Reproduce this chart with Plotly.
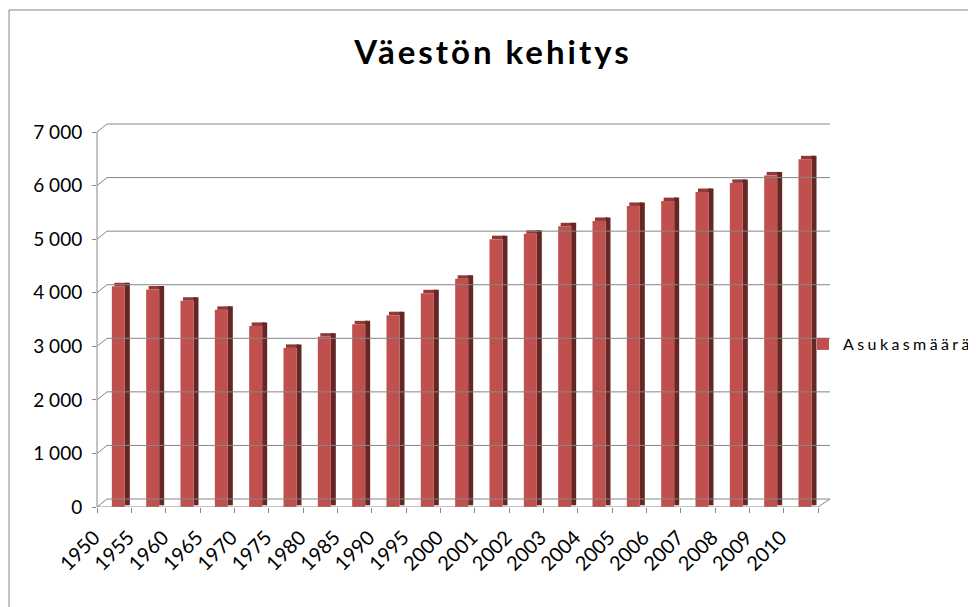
import plotly.graph_objects as go

# ---- data ----
years = ["1950", "1955", "1960", "1965", "1970", "1975", "1980", "1985", "1990", "1995",
         "2000", "2001", "2002", "2003", "2004", "2005", "2006", "2007", "2008", "2009", "2010"]
population = [4120, 4060, 3850, 3680, 3380, 2970, 3180, 3410, 3580, 3990,
              4260, 5000, 5100, 5240, 5340, 5620, 5710, 5880, 6050, 6190, 6490]
y_ticks = [0, 1000, 2000, 3000, 4000, 5000, 6000, 7000]
y_tick_labels = ["0", "1 000", "2 000", "3 000", "4 000", "5 000", "6 000", "7 000"]
series_name = "Asukasmäärä"
title_text = "Väestön kehitys"

# ---- geometry (page pixels; the page body adds an 8px margin) ----
OX, OY = 8, 8
W, H = 976 - OX, 607 - OY
L, R, T, B = 97 - OX, 830 - OX, 123 - OY, 507 - OY   # plot area in figure px
front_right = 818 - OX
n = len(years)
unit = (front_right - L) / n             # px per category
x_span = (R - L) / unit
ppu = 53.57 / 1000                       # px per data unit
y_top = (B - T) / ppu
wall_dx = 10                             # 3-D back wall offset (px)
wall_dy = 8 / ppu                        # in data units
bar_face_w = 13 / unit
bar_face_off = -0.068
side_w = 5 / unit
cap_h = 3.5 / ppu

FONT = "Lato"
GRID = "#868686"
FRONT = "#C0504D"
SIDE = "#652725"
CAP = "#8E3A37"

fig = go.Figure()

# top cap of each 3-D column
fig.add_trace(go.Bar(
    x=years, y=[cap_h] * n, base=population,
    offset=bar_face_off + 2.5 / unit, width=bar_face_w,
    marker=dict(color=CAP, line=dict(width=0)),
    showlegend=False, hoverinfo="skip"))
# side face of each column
fig.add_trace(go.Bar(
    x=years, y=[v + cap_h / 2 for v in population], base=[cap_h / 2] * n,
    offset=bar_face_off + bar_face_w, width=side_w,
    marker=dict(color=SIDE, line=dict(width=0)),
    showlegend=False, hoverinfo="skip"))
# front face
fig.add_trace(go.Bar(
    x=years, y=population,
    name='<span style="letter-spacing:3.4px">' + series_name + '</span>',
    offset=bar_face_off, width=bar_face_w,
    marker=dict(color=FRONT, line=dict(width=0)),
    showlegend=True))

shapes = []
pw, ph = R - L, B - T
x_wall = wall_dx / pw
x_front_end = (front_right - L) / pw
for v in y_ticks:
    # back-wall gridline
    shapes.append(dict(type="line", xref="paper", yref="y", x0=x_wall, x1=1,
                       y0=v + wall_dy, y1=v + wall_dy, line=dict(color=GRID, width=1)))
    # diagonal stub from the axis to the back wall
    shapes.append(dict(type="line", xref="paper", yref="y", x0=0, x1=x_wall,
                       y0=v, y1=v + wall_dy, line=dict(color=GRID, width=1)))
# vertical axis line
shapes.append(dict(type="line", xref="paper", yref="y", x0=0, x1=0,
                   y0=y_ticks[0], y1=y_ticks[-1], line=dict(color=GRID, width=1)))
# front floor edge and right diagonal
shapes.append(dict(type="line", xref="paper", yref="y", x0=0, x1=x_front_end,
                   y0=0, y1=0, line=dict(color=GRID, width=1)))
shapes.append(dict(type="line", xref="paper", yref="y", x0=x_front_end, x1=1,
                   y0=0, y1=wall_dy, line=dict(color=GRID, width=1)))
# chart outer border (runs off the right and bottom edges)
shapes.append(dict(type="rect", xref="paper", yref="paper",
                   x0=(1 - L) / pw, x1=(W + 5 - L) / pw,
                   y0=(B - (H + 5)) / ph, y1=(B - 2) / ph,
                   line=dict(color=GRID, width=1), fillcolor="rgba(0,0,0,0)", layer="below"))

fig.update_layout(
    width=W, height=H,
    paper_bgcolor="white", plot_bgcolor="white",
    margin=dict(l=L, r=W - R, t=T, b=H - B, autoexpand=False),
    font=dict(family=FONT, color="#000000"),
    title=dict(text='<b><span style="letter-spacing:3px">' + title_text + '</span></b>',
               x=(493 - OX) / W, xref="container", xanchor="center",
               y=1 - 44 / H, yref="container", yanchor="middle",
               font=dict(family=FONT, size=33, color="#000000")),
    barmode="overlay",
    showlegend=True,
    legend=dict(x=(803 - OX - L) / pw, xanchor="left", y=(B - (344 - OY)) / ph, yanchor="middle",
                font=dict(family=FONT, size=16, color="#000000"),
                bgcolor="rgba(0,0,0,0)", borderwidth=0),
    shapes=shapes,
)
fig.update_xaxes(type="category", range=[-0.5, -0.5 + x_span], showgrid=False, showline=False,
                 zeroline=False, ticks="outside", tickson="boundaries", ticklen=5,
                 tickcolor=GRID, tickwidth=1, tickangle=-45,
                 ticklabelshift=-20, ticklabelstandoff=14,
                 tickfont=dict(family=FONT, size=20, color="#000000"))
fig.update_yaxes(range=[0, y_top], tickvals=y_ticks, ticktext=y_tick_labels,
                 showgrid=False, showline=False, zeroline=False,
                 ticks="outside", ticklen=4, tickcolor=GRID, tickwidth=1,
                 ticklabelstandoff=6,
                 tickfont=dict(family=FONT, size=19, color="#000000"))

fig.write_html("out.html")
